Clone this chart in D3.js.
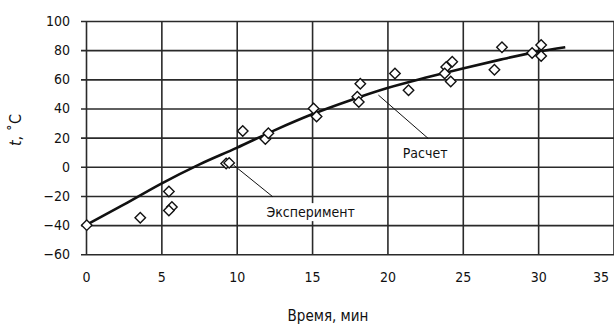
<!DOCTYPE html>
<html>
<head>
<meta charset="utf-8">
<script src="https://cdn.jsdelivr.net/npm/d3@7"></script>
<style>
  body { margin: 0; background: #fff; }
  svg { display: block; }
  text { font-family: "Liberation Sans Narrow", "Arial Narrow", "DejaVu Sans Condensed", sans-serif; fill: #111; }
</style>
</head>
<body>
<svg id="chart"></svg>
<script>
// experiment points (time, min / temperature, C)
const expTime = [0.05, 3.6, 5.5, 5.7, 5.5, 9.3, 9.5, 10.4, 11.9, 12.1, 15.1, 15.3, 18.2, 18.0, 18.1,
    20.5, 21.4, 24.3, 23.9, 23.8, 24.2, 27.6, 27.1, 30.2, 29.6, 30.2];
const expTemp = [-40, -35, -17, -27.5, -30, 2.3, 2.7, 24.5, 19, 23, 40, 34.5, 57, 48, 44.5,
    64, 52.5, 72, 68.5, 64, 58.5, 82, 66.5, 83.5, 78, 76];

// calculated curve
const calcTime = [0, 2.5, 5, 7.5, 10, 12.5, 15, 17.5, 20, 22.5, 25, 27.5, 30, 31.8];
const calcTemp = [-40, -26, -11.5, 1.5, 13, 25, 36, 45.5, 54, 61, 67.5, 73.5, 79, 82];

const xTicks = [0, 5, 10, 15, 20, 25, 30, 35];
const yTicks = [-60, -40, -20, 0, 20, 40, 60, 80, 100];

const width = 614;
const height = 327;

let svg = d3.select("#chart")
    .attr("width", width)
    .attr("height", height);

let x = d3.scaleLinear().domain([0, 35]).range([86, 613.5]);
let y = d3.scaleLinear().domain([-60, 100]).range([254.3, 21]);

// horizontal grid + y labels
let yAxis = svg.append("g")
    .attr("transform", "translate(81,0)")
    .call(d3.axisLeft(y)
        .tickValues(yTicks)
        .tickSizeInner(-(width - 81))
        .tickSizeOuter(0)
        .tickPadding(11));

// vertical grid + x labels
let xAxis = svg.append("g")
    .attr("transform", "translate(0," + y(-60) + ")")
    .call(d3.axisBottom(x)
        .tickValues(xTicks)
        .tickSizeInner(-(y(-60) - y(100)))
        .tickSizeOuter(0)
        .tickPadding(18));

[yAxis, xAxis].forEach(function (g) {
    g.select(".domain").remove();
    g.selectAll(".tick line")
        .attr("stroke", "#2a2a2a")
        .attr("stroke-width", 1.6);
    g.selectAll(".tick text")
        .style("font-size", "14px")
        .attr("fill", "#111");
});

// last x label sits inside the window
xAxis.selectAll(".tick text")
    .filter(function (d) { return d === 35; })
    .attr("text-anchor", "end")
    .attr("dx", -5);

// annotations
const noteText = ["Расчет", "Эксперимент"];
const noteFrom = [[19.4, 49.2], [9.8, 1.1]];
const noteTo = [[22.7, 19.5], [12.4, -20.6]];
const notePos = [[22.5, 6], [14.9, -34.5]];

noteText.forEach(function (t, i) {
    svg.append("line")
        .attr("x1", x(noteFrom[i][0])).attr("y1", y(noteFrom[i][1]))
        .attr("x2", x(noteTo[i][0])).attr("y2", y(noteTo[i][1]))
        .attr("stroke", "#111")
        .attr("stroke-width", 1);

    let label = svg.append("text")
        .attr("x", x(notePos[i][0]))
        .attr("y", y(notePos[i][1]))
        .attr("text-anchor", "middle")
        .style("font-size", "14px")
        .text(t);

    let bb = label.node().getBBox();
    svg.insert("rect", function () { return label.node(); })
        .attr("x", bb.x - 2).attr("y", bb.y - 1)
        .attr("width", bb.width + 4).attr("height", bb.height + 2)
        .attr("fill", "#fff");
});

// calculated line
let line = d3.line()
    .x(function (d, i) { return x(calcTime[i]); })
    .y(function (d) { return y(d); })
    .curve(d3.curveMonotoneX);

svg.append("path")
    .datum(calcTemp)
    .attr("d", line)
    .attr("fill", "none")
    .attr("stroke", "#111")
    .attr("stroke-width", 2.6);

// experiment diamonds
let diamond = d3.symbol().type(d3.symbolDiamond2).size(70);

svg.append("g")
    .selectAll("path")
    .data(expTemp)
    .enter().append("path")
    .attr("d", diamond)
    .attr("transform", function (d, i) {
        return "translate(" + x(expTime[i]) + "," + y(d) + ")";
    })
    .attr("fill", "#fff")
    .attr("stroke", "#111")
    .attr("stroke-width", 1.4);

// axis titles
svg.append("text")
    .attr("x", 328)
    .attr("y", 321)
    .attr("text-anchor", "middle")
    .style("font-size", "15px")
    .text("Время, мин");

let yTitle = svg.append("text")
    .attr("transform", "translate(21,130) rotate(-90)")
    .attr("text-anchor", "middle")
    .style("font-size", "16px");
yTitle.append("tspan").style("font-style", "italic").text("t");
yTitle.append("tspan").text(", ˚C");
</script>
</body>
</html>
